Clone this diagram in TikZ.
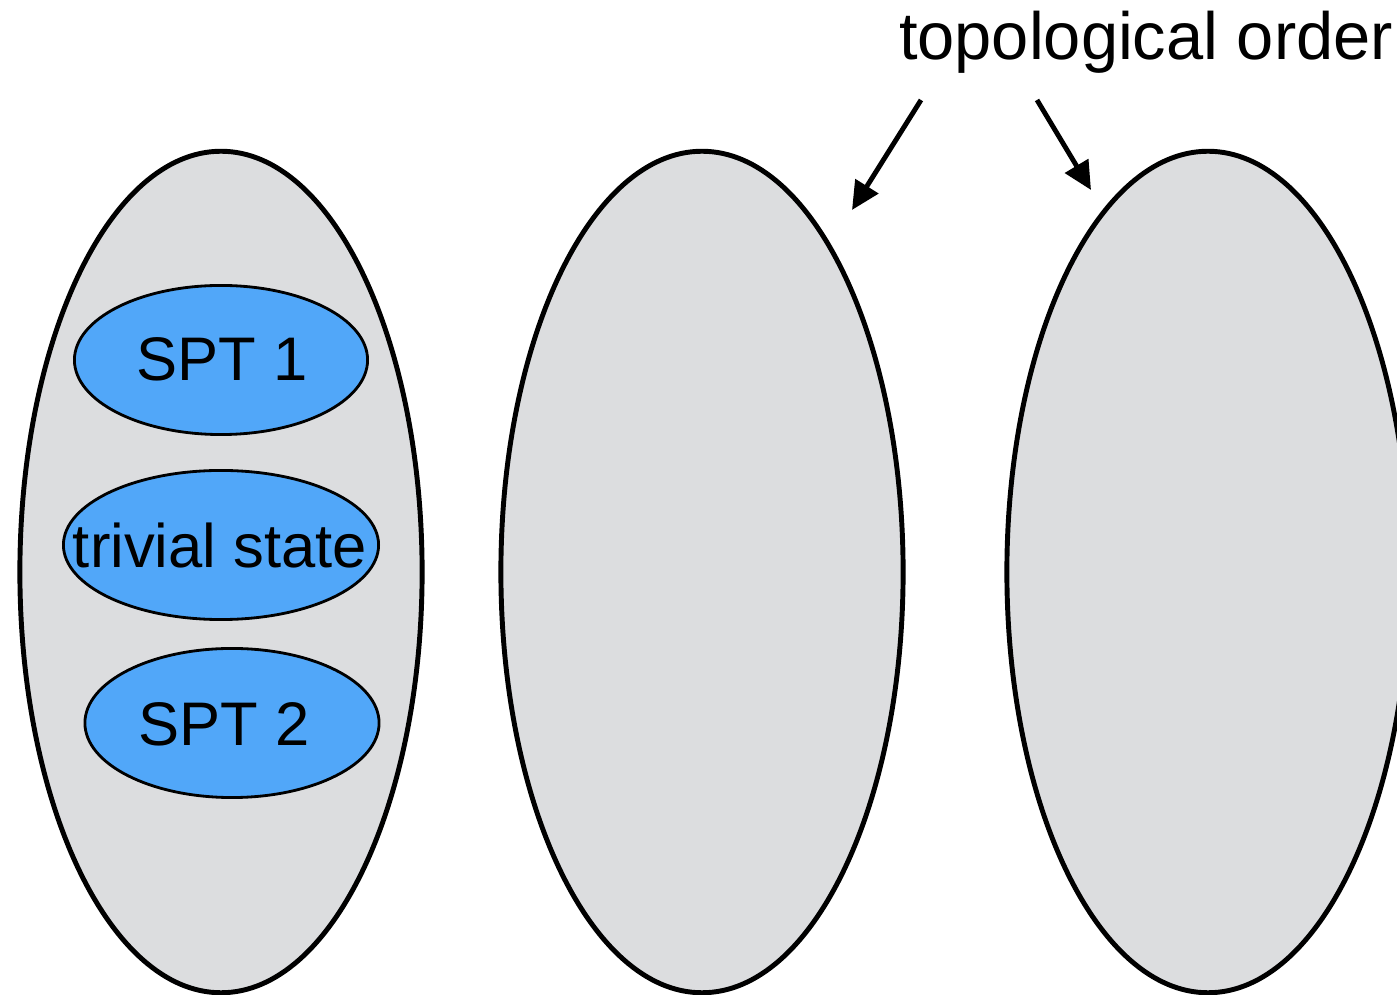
\documentclass[tikz,border=0pt]{standalone}
\usepackage{fontspec}
\setmainfont{Liberation Sans}
\usetikzlibrary{arrows.meta,shapes.geometric}
\definecolor{phasegray}{HTML}{DCDDDF}
\definecolor{sptblue}{HTML}{51A7F9}

\begin{document}
\begin{tikzpicture}[x=0.01cm,y=-0.01cm,>={Triangle[length=8pt,width=7.5pt]},
  phase/.style={ellipse,draw,line width=1.4pt,fill=phasegray,minimum width=4.02cm,minimum height=8.41cm},
  spt/.style={ellipse,draw,line width=0.8pt,fill=sptblue,minimum height=1.49cm,inner sep=0pt},
  lbl/.style={inner sep=0pt,font=\fontsize{17.5}{21}\selectfont}]
\useasboundingbox (0,0) rectangle (1397,995);
\node[phase] (ph1) at (221,572) {};
\node[phase] (ph2) at (702,572) {};
\node[phase] (ph3) at (1208,572) {};
\node[spt,minimum width=2.93cm] (spt1) at (221,360) {};
\node[spt,minimum width=3.15cm] (triv) at (221,545) {};
\node[spt,minimum width=2.94cm] (spt2) at (232,723) {};
\node[lbl] (t1) at (222,359) {SPT 1};
\node[lbl] (t2) at (220,546) {trivial state};
\node[lbl] (t3) at (224,724) {SPT 2};
\node[lbl,font=\fontsize{19}{22}\selectfont] (topo) at (1146,42) {topological order};
\coordinate (s1) at (921,100); \coordinate (e1) at (852,210);
\coordinate (s2) at (1037,100); \coordinate (e2) at (1091,190);
\draw[->,line width=1.4pt] (s1)--(e1); \draw[->,line width=1.4pt] (s2)--(e2);
\end{tikzpicture}
\end{document}
